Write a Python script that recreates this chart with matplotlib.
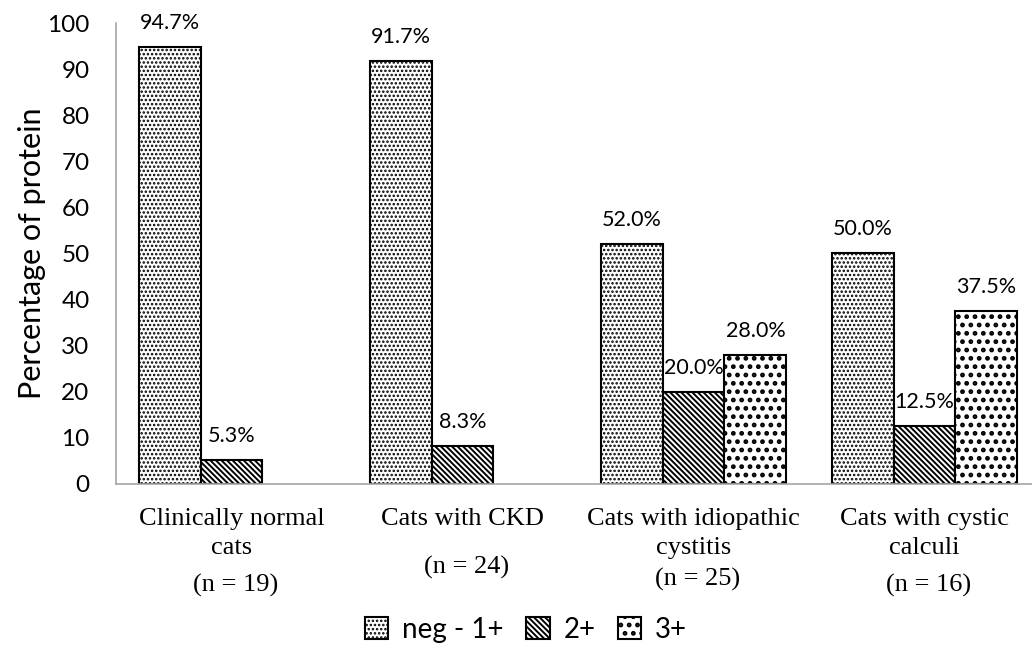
import matplotlib
matplotlib.use('Agg')
import matplotlib.pyplot as plt
import numpy as np

groups = ['Clinically normal\ncats', 'Cats with CKD', 'Cats with idiopathic\ncystitis',
          'Cats with cystic\ncalculi']
group_n = ['(n = 19)', '(n = 24)', '(n = 25)', '(n = 16)']
series = ['neg - 1+', '2+', '3+']
neg_1 = [94.7, 91.7, 52.0, 50.0]
plus_2 = [5.3, 8.3, 20.0, 12.5]
plus_3 = [0.0, 0.0, 28.0, 37.5]

sans = ['Lato', 'DejaVu Sans']
serif = ['Liberation Serif', 'DejaVu Serif']

fig = plt.figure(figsize=(10.32, 6.48), dpi=100)
ax = fig.add_axes([116 / 1032, 164 / 648, 924 / 1032, 461 / 648])

x = np.arange(len(groups))
width = 0.268
hatches = ['....', '\\' * 6, '..']
hatch_lw = [1.2, 1.4, 2.2]
values = [neg_1, plus_2, plus_3]


def set_hatch_lw(patch, lw):
    if hasattr(patch, 'set_hatch_linewidth'):
        patch.set_hatch_linewidth(lw)


bars = []
for i, vals in enumerate(values):
    plt.rcParams['hatch.linewidth'] = hatch_lw[i]
    b = ax.bar(x + (i - 1) * width, vals, width, facecolor='white', edgecolor='black',
               linewidth=1.5, hatch=hatches[i], label=series[i])
    bars.append(b)
    for rect, v in zip(b, vals):
        set_hatch_lw(rect, hatch_lw[i])
        if v <= 0:
            rect.set_visible(False)
            continue
        ax.annotate('%.1f%%' % v, (rect.get_x() + rect.get_width() / 2, v),
                    xytext=(0, 13), textcoords='offset points', ha='center',
                    va='baseline', fontsize=15.5, family=sans)

ax.set_xlim(-0.5, len(groups) - 0.5)
ax.set_ylim(0, 100)
ax.set_yticks(range(0, 101, 10))
ax.tick_params(axis='y', length=0, pad=19, labelsize=17.5)
for lab in ax.get_yticklabels():
    lab.set_family(sans)
ax.set_xticks(x)
ax.set_xticklabels(groups, family=serif, fontsize=19, linespacing=1.45)
ax.tick_params(axis='x', length=0, pad=17)

# sample sizes sit below the group names
n_offsets = [-73, -60, -69, -73]
for xi, txt, off in zip(x, group_n, n_offsets):
    ax.annotate(txt, (xi, 0), xycoords=ax.get_xaxis_transform(), xytext=(3, off),
                textcoords='offset points', ha='center', va='center',
                fontsize=19, family=serif)

ax.set_ylabel('Percentage of protein', family=sans, fontsize=22, labelpad=1)

for side in ['top', 'right']:
    ax.spines[side].set_visible(False)
for side in ['left', 'bottom']:
    ax.spines[side].set_color('#a6a6a6')
    ax.spines[side].set_linewidth(1.2)

leg = fig.legend(handles=[b[2] for b in bars], labels=series, loc='center',
                 bbox_to_anchor=(526 / 1032, 1 - 630 / 648), ncol=3, frameon=False,
                 prop={'family': sans, 'size': 20}, handlelength=0.85, handleheight=0.85,
                 handletextpad=0.5, columnspacing=0.8)
for h, lw in zip(leg.legend_handles, hatch_lw):
    set_hatch_lw(h, lw)

fig.savefig('out.png', dpi=100)
